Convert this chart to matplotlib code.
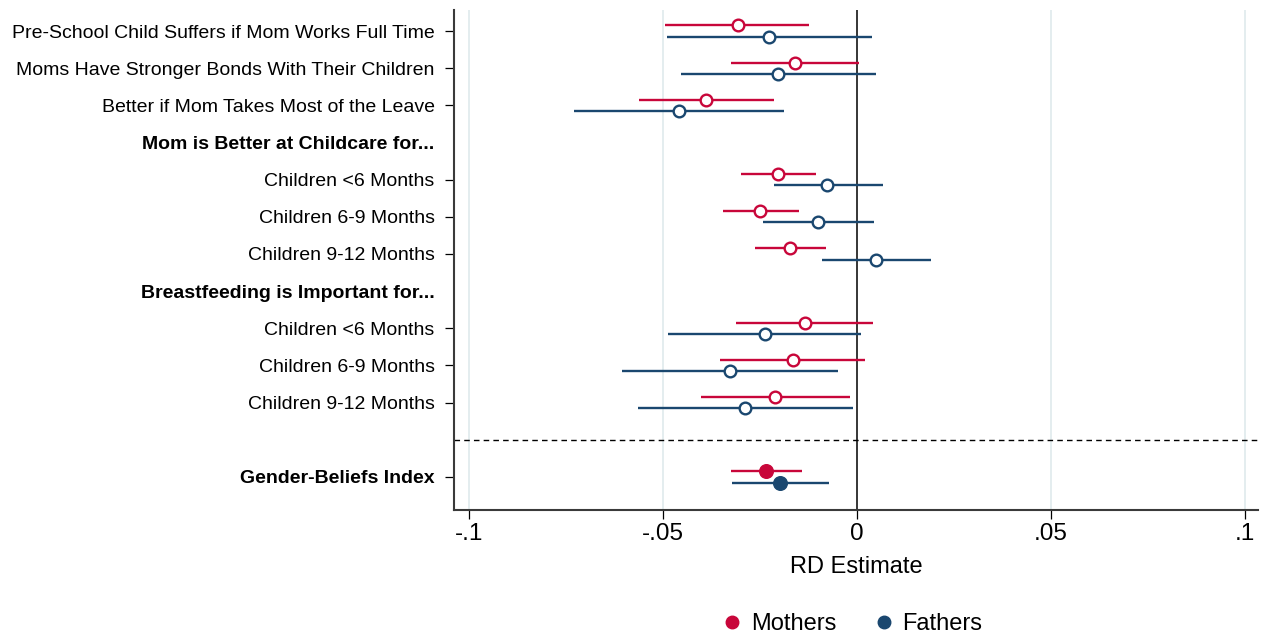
import numpy as np
import matplotlib
matplotlib.use("Agg")
import matplotlib.pyplot as plt
from matplotlib.lines import Line2D

plt.rcParams['font.family'] = ['Liberation Sans', 'DejaVu Sans']

nan = np.nan

row_labels = ["Pre-School Child Suffers if Mom Works Full Time",
              "Moms Have Stronger Bonds With Their Children",
              "Better if Mom Takes Most of the Leave",
              "Mom is Better at Childcare for...",
              "Children <6 Months",
              "Children 6-9 Months",
              "Children 9-12 Months",
              "Breastfeeding is Important for...",
              "Children <6 Months",
              "Children 6-9 Months",
              "Children 9-12 Months",
              "",
              "Gender-Beliefs Index"]
bold_rows = [3, 7, 12]
divider_row = 11

mothers_est = [-0.0308, -0.0160, -0.0389, nan, -0.0203, -0.0249, -0.0173, nan, -0.0134, -0.0166, -0.0211, nan, -0.0235]
mothers_lo = [-0.0494, -0.0326, -0.0563, nan, -0.0299, -0.0346, -0.0263, nan, -0.0312, -0.0352, -0.0401, nan, -0.0324]
mothers_hi = [-0.0123, 0.0006, -0.0215, nan, -0.0105, -0.0150, -0.0081, nan, 0.0042, 0.0021, -0.0019, nan, -0.0143]

fathers_est = [-0.0226, -0.0203, -0.0460, nan, -0.0076, -0.0101, 0.0050, nan, -0.0238, -0.0328, -0.0289, nan, -0.0198]
fathers_lo = [-0.0490, -0.0453, -0.0729, nan, -0.0215, -0.0243, -0.0090, nan, -0.0486, -0.0607, -0.0565, nan, -0.0321]
fathers_hi = [0.0040, 0.0048, -0.0188, nan, 0.0066, 0.0045, 0.0191, nan, 0.0010, -0.0050, -0.0010, nan, -0.0073]

xticks = [-0.1, -0.05, 0, 0.05, 0.1]
xtick_labels = ["-.1", "-.05", "0", ".05", ".1"]

red = '#c8063a'
blue = '#1a476f'


def draw_series(ax, est, lo, hi, offset, color):
    y = np.arange(len(est)) + offset
    est = np.array(est)
    lo = np.array(lo)
    hi = np.array(hi)
    ok = ~np.isnan(est)
    ax.hlines(y[ok], lo[ok], hi[ok], color=color, lw=1.7, zorder=3)
    for i in np.where(ok)[0]:
        if i == len(est) - 1:
            # index row gets solid markers
            ax.plot(est[i], y[i], 'o', ms=9.8, color=color, zorder=4)
        else:
            ax.plot(est[i], y[i], 'o', ms=8.4, mfc='white', mec=color, mew=1.7, zorder=4)


fig = plt.figure(figsize=(12.62, 6.35), dpi=100)
ax = fig.add_axes([454/1262, 1 - 510/635, (1258-454)/1262, 500/635])

for xv in [-0.1, -0.05, 0.05, 0.1]:
    ax.axvline(xv, color='#e4edef', lw=1.4, zorder=1)
ax.axvline(0, color='black', lw=1.1, zorder=2)
ax.axhline(divider_row, color='black', lw=1.0, ls=(0, (4, 3)), zorder=2)

draw_series(ax, mothers_est, mothers_lo, mothers_hi, -0.15, red)
draw_series(ax, fathers_est, fathers_lo, fathers_hi, 0.15, blue)

ax.set_xlim(-0.1039, 0.1034)
ax.set_ylim(12.89, -0.566)

rows = [i for i in range(len(row_labels)) if i != divider_row]
ax.set_yticks(rows)
ax.set_yticklabels([row_labels[i] for i in rows], fontsize=14)
for tick, r in zip(ax.yaxis.get_major_ticks(), rows):
    if r in bold_rows:
        tick.label1.set_fontweight('bold')
    if r in (3, 7):
        tick.tick1line.set_visible(False)

ax.set_xticks(xticks)
ax.set_xticklabels(xtick_labels, fontsize=17.5)
ax.tick_params(axis='x', length=6.5, width=0.9, pad=3)
ax.tick_params(axis='y', length=6.5, width=0.9, pad=7.5)
ax.set_xlabel("RD Estimate", fontsize=17, labelpad=8)

ax.spines['top'].set_visible(False)
ax.spines['right'].set_visible(False)
for side in ['left', 'bottom']:
    ax.spines[side].set_linewidth(1.5)
    ax.spines[side].set_color('#3a3a3a')

handles = [Line2D([], [], marker='o', ls='', color=red, ms=9),
           Line2D([], [], marker='o', ls='', color=blue, ms=9)]
fig.legend(handles, ["Mothers", "Fathers"], loc='center', ncol=2,
           bbox_to_anchor=(851.5/1262, 1 - 624/635), frameon=False,
           fontsize=17, handletextpad=0.3, columnspacing=1.5, handlelength=1.0)

fig.savefig("out.png", dpi=100)
